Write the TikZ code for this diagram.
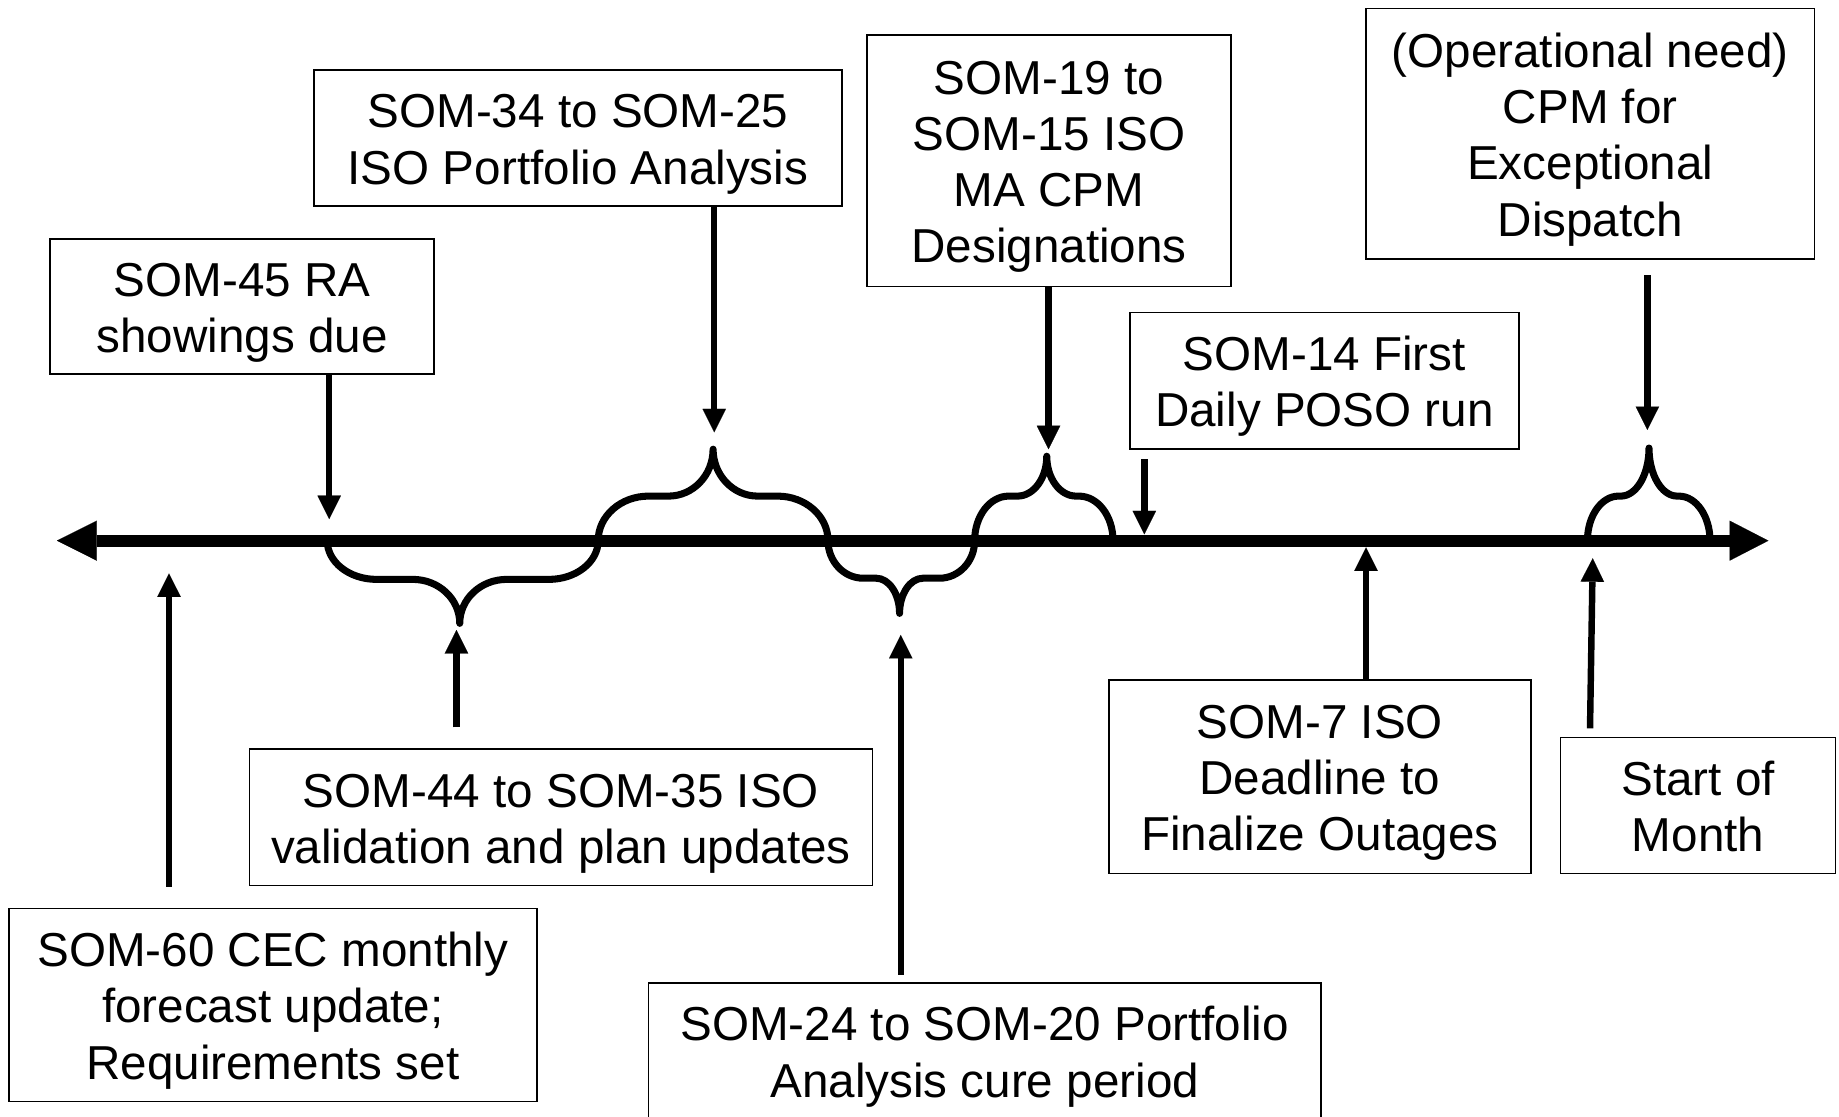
\documentclass[tikz,border=0pt]{standalone}
\usepackage{fontspec}
\setmainfont{Liberation Sans}
\usetikzlibrary{arrows.meta}
\newcommand\boxfont{\fontsize{40.6pt}{48pt}\selectfont}
% strut that fixes the height of the first text line in a box
\newcommand\tstrut{\rule{0pt}{39.4pt}}
% curly brace on the timeline (axis at y=461):
% #1 left end, #2 right end, #3 tip x, #4 shoulder y, #5 tip y, #6 end-curve width, #7 tip-curve width
\newcommand\curlybrace[7]{%
  \draw[brace] (#1,461) .. controls (#1,{461+0.552*(#4-461)}) and ({#1+0.448*#6},#4) .. ({#1+#6},#4)
    -- ({#3-#7},#4) .. controls ({#3-0.448*#7},#4) and (#3,{#4+0.448*(#5-#4)}) .. (#3,#5)
    .. controls (#3,{#4+0.448*(#5-#4)}) and ({#3+0.448*#7},#4) .. ({#3+#7},#4)
    -- ({#2-#6},#4) .. controls ({#2-0.448*#6},#4) and (#2,{461+0.552*(#4-461)}) .. (#2,461);}
\begin{document}
\begin{tikzpicture}[x=1pt, y=-1pt,
  evt/.style={draw, line width=1.4pt, inner sep=0pt, align=center, font=\boxfont,
    execute at end node={\rule[-9pt]{0pt}{9pt}}},
  pointer/.style={line width=5.5pt, -{Triangle[length=20pt,width=20pt,line width=0.1pt]}},
  brace/.style={line width=6pt, line cap=round, line join=round},
  timeline/.style={line width=10.5pt,
    {Triangle[length=34pt,width=34pt,line width=0.1pt]}-{Triangle[length=33pt,width=34pt,line width=0.1pt]}}]
\useasboundingbox (0,0) rectangle (1568,952);

% event boxes above the timeline
\node[evt, minimum width=327.7pt, minimum height=115pt] (ra) at (206.4,261.2) {\tstrut SOM-45 RA\\showings due};
\node[evt, minimum width=450.2pt, minimum height=115.9pt] (pa) at (492.8,117.7) {\tstrut SOM-34 to SOM-25\\ISO Portfolio Analysis};
\node[evt, minimum width=309.9pt, minimum height=214.4pt] (ma) at (894.4,137) {\tstrut SOM-19 to\\SOM-15 ISO\\MA CPM\\Designations};
\node[evt, minimum width=331.4pt, minimum height=116.4pt] (poso) at (1129.2,324.8) {\tstrut SOM-14 First\\Daily POSO run};
\node[evt, minimum width=382.4pt, minimum height=214pt] (op) at (1355.9,114.1) {\tstrut (Operational need)\\CPM for\\Exceptional\\Dispatch};

% event boxes below the timeline
\node[evt, minimum width=531.4pt, minimum height=116.3pt] (val) at (478.3,697) {\tstrut SOM-44 to SOM-35 ISO\\validation and plan updates};
\node[evt, minimum width=450.3pt, minimum height=164.5pt] (cec) at (232.6,856.8) {\tstrut SOM-60 CEC monthly\\forecast update;\\Requirements set};
\node[evt, minimum width=573.6pt, minimum height=115.6pt] (cure) at (839.6,896.2) {\tstrut SOM-24 to SOM-20 Portfolio\\Analysis cure period};
\node[evt, minimum width=359.5pt, minimum height=164.9pt] (out) at (1125.4,662.3) {\tstrut SOM-7 ISO\\Deadline to\\Finalize Outages};
\node[evt, minimum width=234.4pt, minimum height=116pt] (som) at (1447.8,686.7) {\tstrut Start of\\Month};

% braces marking the periods
\curlybrace{279}{510}{392}{494}{531.5}{42}{40}
\curlybrace{510}{706}{608}{423}{383}{43}{38}
\curlybrace{706}{831}{767}{493}{523}{30}{20}
\curlybrace{831}{949}{892.5}{423}{389}{29}{25}
\curlybrace{1353.5}{1458}{1406}{423}{382}{26.5}{24}

% timeline
\coordinate (axL) at (48.5,461);
\coordinate (axR) at (1507.8,461);
\draw[timeline] (axL) -- (axR);

% pointers from the boxes to the timeline
\coordinate (tRA) at (280.7,442.6);
\coordinate (tPA) at (609,368.6);
\coordinate (tMA) at (894,383);
\coordinate (sPOSO) at (975.7,391.7);
\coordinate (tPOSO) at (975.7,455.6);
\coordinate (sOP) at (1404.6,234.5);
\coordinate (tOP) at (1404.6,366.6);
\coordinate (sCEC) at (144.1,756);
\coordinate (tCEC) at (144.1,488.9);
\coordinate (sVAL) at (389.2,620.2);
\coordinate (tVAL) at (389.2,537.2);
\coordinate (sCURE) at (768,831.3);
\coordinate (tCURE) at (768,541.4);
\coordinate (tOUT) at (1164.7,466.7);
\coordinate (sSOM) at (1355.7,621);
\coordinate (tSOM) at (1358,476);

\draw[pointer] (ra.south -| tRA) -- (tRA);
\draw[pointer] (pa.south -| tPA) -- (tPA);
\draw[pointer] (ma.south -| tMA) -- (tMA);
\draw[pointer] (sPOSO) -- (tPOSO);
\draw[pointer] (sOP) -- (tOP);
\draw[pointer] (sCEC) -- (tCEC);
\draw[pointer] (sVAL) -- (tVAL);
\draw[pointer] (sCURE) -- (tCURE);
\draw[pointer] (out.north -| tOUT) -- (tOUT);
\draw[pointer] (sSOM) -- (tSOM);
\end{tikzpicture}
\end{document}
